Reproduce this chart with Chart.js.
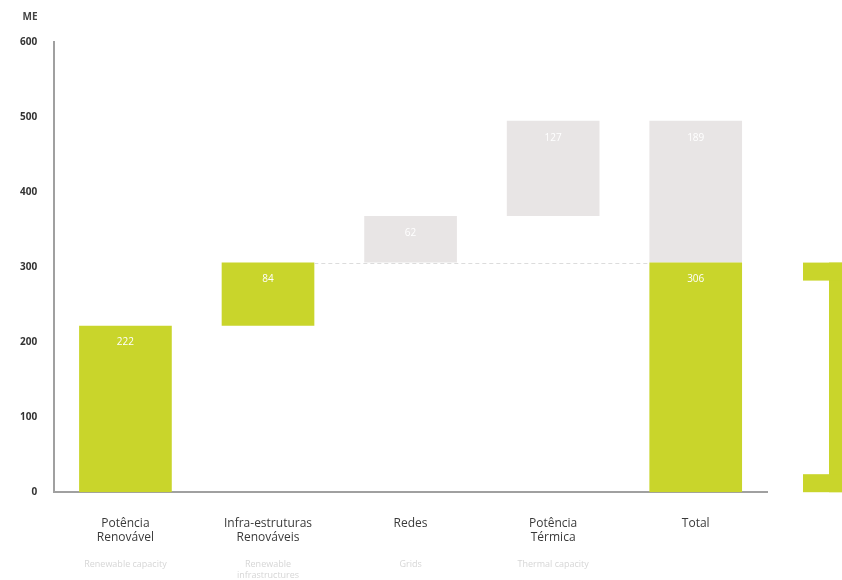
<!DOCTYPE html>
<html>
<head>
<meta charset="utf-8">
<script src="https://cdn.jsdelivr.net/npm/chart.js@4"></script>
<style>
    html, body { margin: 0; padding: 0; background: #fff; }
    #wrap { width: 842px; height: 580px; }
</style>
</head>
<body>
<div id="wrap"><canvas id="waterfallChart" width="842" height="580"></canvas></div>
<script>
const categories = [['Potência', 'Renovável'], ['Infra-estruturas', 'Renováveis'], 'Redes', ['Potência', 'Térmica'], 'Total'];
const subLabels = [['Renewable capacity'], ['Renewable', 'infrastructures'], ['Grids'], ['Thermal capacity'], []];
// floating bars: [start, end]
const greenBars = [[0, 222], [222, 306], null, null, [0, 306]];
const greyBars = [null, null, [306, 368], [368, 495], [306, 495]];
const greenLabels = ['222', '84', null, null, '306'];
const greyLabels = [null, null, '62', '127', '189'];
const yTicks = [0, 100, 200, 300, 400, 500, 600];

const green = '#c9d52b';
const grey = '#e8e5e5';

// draws value labels, the dashed level line, sub labels, unit and the bracket
const extras = {
    id: 'extras',
    afterDatasetsDraw(chart) {
        const ctx = chart.ctx;
        const x = chart.scales.x;
        const y = chart.scales.y;

        // dashed line at the renewable level
        const m0 = chart.getDatasetMeta(0);
        ctx.save();
        ctx.strokeStyle = '#dcdcdc';
        ctx.setLineDash([4, 3]);
        ctx.lineWidth = 1;
        ctx.beginPath();
        const ly = Math.round(y.getPixelForValue(306)) + 0.5;
        ctx.moveTo(m0.data[1].x + m0.data[1].width / 2, ly);
        ctx.lineTo(m0.data[4].x - m0.data[4].width / 2, ly);
        ctx.stroke();
        ctx.restore();

        // value labels
        ctx.save();
        ctx.font = '10px "Open Sans", sans-serif';
        ctx.fillStyle = '#ffffff';
        ctx.textAlign = 'center';
        ctx.textBaseline = 'middle';
        [[greenBars, greenLabels], [greyBars, greyLabels]].forEach(([bars, labels]) => {
            bars.forEach((b, i) => {
                if (!b || !labels[i]) return;
                const top = y.getPixelForValue(b[1]);
                ctx.fillText(labels[i], x.getPixelForValue(i), top + 17);
            });
        });
        ctx.restore();

        // faint english sub labels
        ctx.save();
        ctx.font = '9px "Open Sans", sans-serif';
        ctx.fillStyle = '#d6d6d6';
        ctx.textAlign = 'center';
        ctx.textBaseline = 'middle';
        subLabels.forEach((lines, i) => {
            lines.forEach((t, j) => {
                ctx.fillText(t, x.getPixelForValue(i), 564 + j * 11);
            });
        });
        ctx.restore();

        // unit
        ctx.save();
        ctx.font = 'bold 10px "Open Sans", sans-serif';
        ctx.fillStyle = '#444';
        ctx.textAlign = 'center';
        ctx.fillText('ME', 30, 20);
        ctx.restore();

        // bracket on the right, spanning 0 to the renewable total
        const bt = y.getPixelForValue(306);
        const bb = y.getPixelForValue(0);
        ctx.save();
        ctx.fillStyle = green;
        ctx.fillRect(829, bt, 13, bb - bt);
        ctx.fillRect(803, bt, 39, 18);
        ctx.fillRect(803, bb - 18, 39, 18);
        ctx.restore();
    }
};

new Chart(document.getElementById('waterfallChart'), {
    type: 'bar',
    data: {
        labels: categories,
        datasets: [
            { data: greenBars, backgroundColor: green, barPercentage: 0.65, categoryPercentage: 1 },
            { data: greyBars, backgroundColor: grey, barPercentage: 0.65, categoryPercentage: 1 }
        ]
    },
    options: {
        responsive: false,
        animation: false,
        devicePixelRatio: 1,
        layout: { padding: { top: 42, right: 75, bottom: 11, left: 8 } },
        plugins: { legend: { display: false }, tooltip: { enabled: false } },
        scales: {
            x: {
                stacked: true,
                grid: { display: false, drawTicks: false },
                border: { color: '#a0a0a0', width: 2 },
                ticks: {
                    color: '#3a3a3a',
                    font: { family: '"Open Sans", sans-serif', size: 12 },
                    padding: 24,
                    maxRotation: 0
                }
            },
            y: {
                min: 0,
                max: 600,
                afterBuildTicks: axis => { axis.ticks = yTicks.map(v => ({ value: v })); },
                grid: { display: false, drawTicks: true, tickLength: 5, color: '#bbb' },
                border: { color: '#a0a0a0', width: 2 },
                ticks: {
                    color: '#333',
                    font: { family: '"Open Sans", sans-serif', size: 10, weight: 'bold' },
                    padding: 12
                }
            }
        }
    },
    plugins: [extras]
});
</script>
</body>
</html>
